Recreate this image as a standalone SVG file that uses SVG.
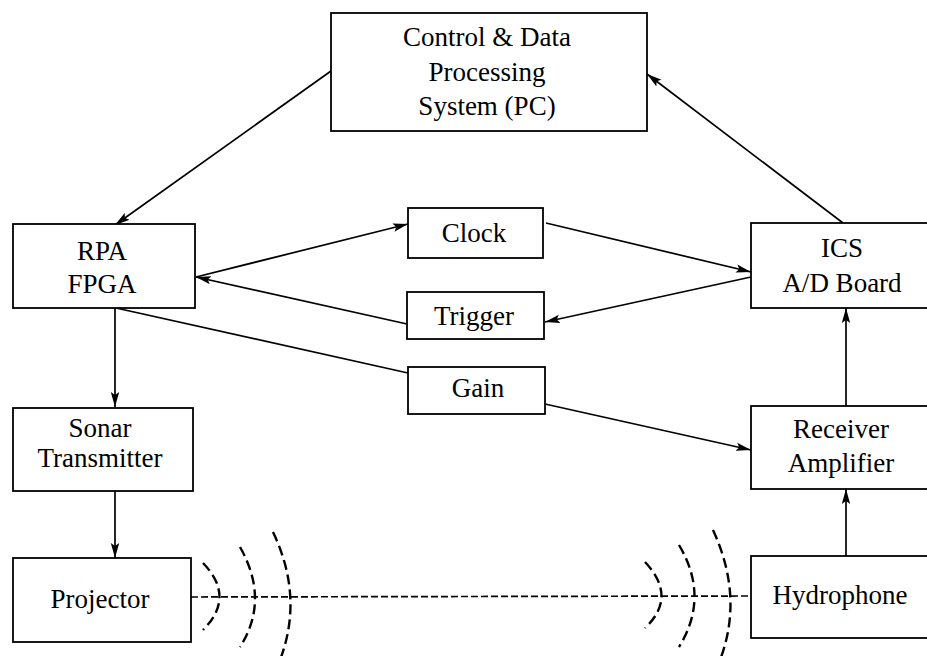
<svg xmlns="http://www.w3.org/2000/svg" width="927" height="656" viewBox="0 0 927 656">
<style>
.box{fill:#fff;stroke:#000;stroke-width:1.8}
.t{font-family:"Liberation Serif","Times New Roman",serif;font-size:27px;fill:#000;text-anchor:middle}
.c{fill:none;stroke:#000;stroke-width:1.7}
.wave{fill:none;stroke:#000;stroke-width:2.4;stroke-dasharray:10 5}
.dash{fill:none;stroke:#000;stroke-width:1.7;stroke-dasharray:7 3}
</style>
<defs>
<marker id="ah" markerUnits="userSpaceOnUse" markerWidth="16" markerHeight="10" refX="15" refY="5" orient="auto">
<path d="M0,0.8 L15,5 L0,9.2 L3,5 Z" fill="#000"/>
</marker>
</defs>
<rect width="927" height="656" fill="#fff"/>
<g id="connectors">
<line class="c" x1="331" y1="71" x2="115" y2="225" marker-end="url(#ah)"/>
<line class="c" x1="843" y1="223" x2="647" y2="74" marker-end="url(#ah)"/>
<line class="c" x1="196" y1="277" x2="408" y2="224" marker-end="url(#ah)"/>
<line class="c" x1="407" y1="324" x2="196" y2="277" marker-end="url(#ah)"/>
<line class="c" x1="546" y1="223" x2="751" y2="272" marker-end="url(#ah)"/>
<line class="c" x1="751" y1="277" x2="545" y2="322" marker-end="url(#ah)"/>
<line class="c" x1="116" y1="308" x2="408" y2="373"/>
<line class="c" x1="545" y1="404" x2="751" y2="450" marker-end="url(#ah)"/>
<line class="c" x1="115" y1="308" x2="115" y2="407" marker-end="url(#ah)"/>
<line class="c" x1="115" y1="491" x2="115" y2="558" marker-end="url(#ah)"/>
<line class="c" x1="846" y1="556" x2="846" y2="489" marker-end="url(#ah)"/>
<line class="c" x1="846" y1="406" x2="846" y2="308" marker-end="url(#ah)"/>
<line class="dash" x1="191" y1="597" x2="751" y2="596"/>
</g>
<g id="waves">
<path class="wave" d="M203,563 Q236,597 203,630"/>
<path class="wave" d="M240,547 Q270,600 240,647"/>
<path class="wave" d="M273,532 Q304,597 280,660"/>
<path class="wave" d="M645,562 Q678,597 645,628"/>
<path class="wave" d="M679,545 Q710,597 679,647"/>
<path class="wave" d="M713,530 Q744,597 720,660"/>
</g>
<g id="pc">
<rect class="box" x="331" y="13" width="316" height="118"/>
<text class="t" x="487" y="46">Control &amp; Data</text>
<text class="t" x="487" y="81">Processing</text>
<text class="t" x="487" y="115">System (PC)</text>
</g>
<g id="rpa">
<rect class="box" x="13" y="224" width="182" height="84"/>
<text class="t" x="102" y="260">RPA</text>
<text class="t" x="102" y="293">FPGA</text>
</g>
<g id="clock">
<rect class="box" x="408" y="208" width="135" height="50"/>
<text class="t" x="474" y="242">Clock</text>
</g>
<g id="trigger">
<rect class="box" x="407" y="292" width="137" height="47"/>
<text class="t" x="474" y="325">Trigger</text>
</g>
<g id="gain">
<rect class="box" x="408" y="367" width="137" height="47"/>
<text class="t" x="478" y="397">Gain</text>
</g>
<g id="ics">
<rect class="box" x="751" y="223" width="190" height="85"/>
<text class="t" x="842" y="257">ICS</text>
<text class="t" x="842" y="292">A/D Board</text>
</g>
<g id="sonar">
<rect class="box" x="13" y="408" width="180" height="83"/>
<text class="t" x="100" y="437">Sonar</text>
<text class="t" x="100" y="467">Transmitter</text>
</g>
<g id="receiver">
<rect class="box" x="751" y="406" width="190" height="83"/>
<text class="t" x="841" y="438">Receiver</text>
<text class="t" x="841" y="472">Amplifier</text>
</g>
<g id="projector">
<rect class="box" x="13" y="558" width="178" height="84"/>
<text class="t" x="100" y="608">Projector</text>
</g>
<g id="hydrophone">
<rect class="box" x="751" y="556" width="190" height="82"/>
<text class="t" x="840" y="604">Hydrophone</text>
</g>
</svg>
